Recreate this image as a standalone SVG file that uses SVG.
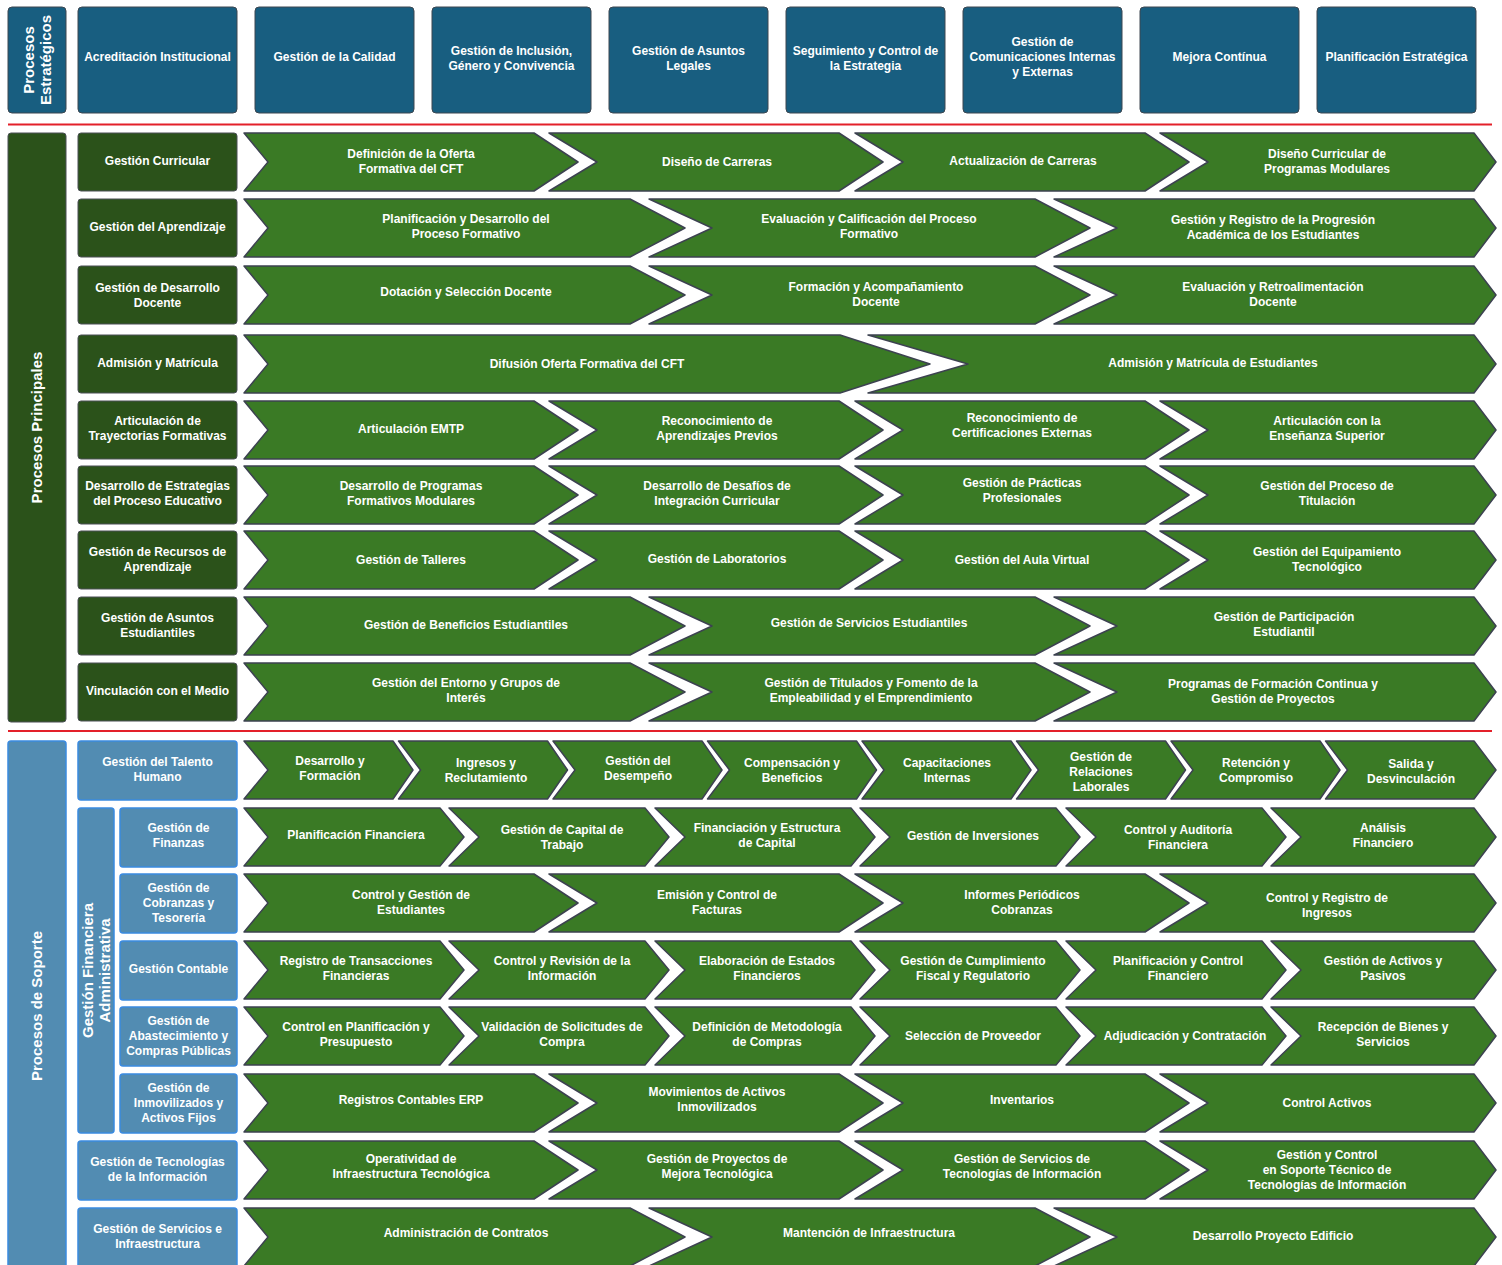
<svg xmlns="http://www.w3.org/2000/svg" width="1502" height="1265" viewBox="0 0 1502 1265">
<style>
.strat{fill:#185e80;stroke:#3d4650;stroke-width:1}
.prin{fill:#2b521a;stroke:#4a4f55;stroke-width:1}
.sup{fill:#528cb2;stroke:#3a8ae0;stroke-width:1.5}
.chev{fill:#3a7a25;stroke:#3c4250;stroke-width:1.5;stroke-linejoin:round}
.sep{stroke:#e3202a;stroke-width:2;fill:none}
.t{font-family:"Liberation Sans",Arial,sans-serif;font-weight:bold;font-size:12px;fill:#ffffff;text-anchor:middle}
.tv{font-family:"Liberation Sans",Arial,sans-serif;font-weight:bold;font-size:15px;fill:#ffffff;text-anchor:middle}
</style>
<defs>
<polygon id="c4f" class="chev" points="0,0 290,0 334,29 290,58 0,58 24,29"/>
<polygon id="c4m" class="chev" points="0,0 290,0 334,29 290,58 0,58 48,29"/>
<polygon id="c4l" class="chev" points="0,0 314,0 336,29 314,58 0,58 48,29"/>
<polygon id="c3f" class="chev" points="0,0 386,0 441,29 386,58 0,58 24,29"/>
<polygon id="c3m" class="chev" points="0,0 386,0 441,29 386,58 0,58 63,29"/>
<polygon id="c3l" class="chev" points="0,0 420,0 442,29 420,58 0,58 63,29"/>
<polygon id="c2f" class="chev" points="0,0 596,0 686,29 596,58 0,58 24,29"/>
<polygon id="c2l" class="chev" points="0,0 606,0 628,29 606,58 0,58 100,29"/>
<polygon id="c8f" class="chev" points="0,0 149,0 169,29 149,58 0,58 24,29"/>
<polygon id="c8m" class="chev" points="0,0 149,0 169,29 149,58 0,58 22,29"/>
<polygon id="c8l" class="chev" points="0,0 148.5,0 170.5,29 148.5,58 0,58 22,29"/>
<polygon id="c6f" class="chev" points="0,0 196,0 220,29 196,58 0,58 24,29"/>
<polygon id="c6m" class="chev" points="0,0 196,0 220,29 196,58 0,58 30,29"/>
<polygon id="c6l" class="chev" points="0,0 203,0 225,29 203,58 0,58 30,29"/>
</defs>
<rect width="1502" height="1265" fill="#ffffff"/>

<g id="connectors">
<line class="sep" x1="8" y1="124.5" x2="1492" y2="124.5"/>
<line class="sep" x1="8" y1="731" x2="1492" y2="731"/>
</g>

<!-- Strategic -->
<g id="procesos-estrategicos"><rect class="strat" x="8" y="7" width="58" height="106" rx="4"/><text class="tv" transform="translate(37,60) rotate(-90)" y="-3">Procesos<tspan x="0" dy="17">Estratégicos</tspan></text></g>
<g id="s1"><rect class="strat" x="78" y="7" width="159" height="106" rx="4"/><text class="t" x="157.5" y="61">Acreditación Institucional</text></g>
<g id="s2"><rect class="strat" x="255" y="7" width="159" height="106" rx="4"/><text class="t" x="334.5" y="61">Gestión de la Calidad</text></g>
<g id="s3"><rect class="strat" x="432" y="7" width="159" height="106" rx="4"/><text class="t" x="511.5" y="55">Gestión de Inclusión,<tspan x="511.5" dy="15">Género y Convivencia</tspan></text></g>
<g id="s4"><rect class="strat" x="609" y="7" width="159" height="106" rx="4"/><text class="t" x="688.5" y="55">Gestión de Asuntos<tspan x="688.5" dy="15">Legales</tspan></text></g>
<g id="s5"><rect class="strat" x="786" y="7" width="159" height="106" rx="4"/><text class="t" x="865.5" y="55">Seguimiento y Control de<tspan x="865.5" dy="15">la Estrategia</tspan></text></g>
<g id="s6"><rect class="strat" x="963" y="7" width="159" height="106" rx="4"/><text class="t" x="1042.5" y="46">Gestión de<tspan x="1042.5" dy="15">Comunicaciones Internas</tspan><tspan x="1042.5" dy="15">y Externas</tspan></text></g>
<g id="s7"><rect class="strat" x="1140" y="7" width="159" height="106" rx="4"/><text class="t" x="1219.5" y="61">Mejora Contínua</text></g>
<g id="s8"><rect class="strat" x="1317" y="7" width="159" height="106" rx="4"/><text class="t" x="1396.5" y="61">Planificación Estratégica</text></g>

<!-- Principal -->
<g id="procesos-principales"><rect class="prin" x="8" y="133" width="58" height="589" rx="3"/><text class="tv" transform="translate(37,427.5) rotate(-90)" y="5">Procesos Principales</text></g>

<g id="p1"><rect class="prin" x="78" y="133" width="159" height="58" rx="3"/><text class="t" x="157.5" y="165">Gestión Curricular</text></g>
<g id="p1-1"><use href="#c4f" x="244" y="133"/><text class="t" x="411" y="158">Definición de la Oferta<tspan x="411" dy="15">Formativa del CFT</tspan></text></g>
<g id="p1-2"><use href="#c4m" x="549" y="133"/><text class="t" x="717" y="166">Diseño de Carreras</text></g>
<g id="p1-3"><use href="#c4m" x="855" y="133"/><text class="t" x="1023" y="165">Actualización de Carreras</text></g>
<g id="p1-4"><use href="#c4l" x="1160" y="133"/><text class="t" x="1327" y="158">Diseño Curricular de<tspan x="1327" dy="15">Programas Modulares</tspan></text></g>

<g id="p2"><rect class="prin" x="78" y="199" width="159" height="58" rx="3"/><text class="t" x="157.5" y="231">Gestión del Aprendizaje</text></g>
<g id="p2-1"><use href="#c3f" x="244" y="199"/><text class="t" x="466" y="223">Planificación y Desarrollo del<tspan x="466" dy="15">Proceso Formativo</tspan></text></g>
<g id="p2-2"><use href="#c3m" x="649" y="199"/><text class="t" x="869" y="223">Evaluación y Calificación del Proceso<tspan x="869" dy="15">Formativo</tspan></text></g>
<g id="p2-3"><use href="#c3l" x="1054" y="199"/><text class="t" x="1273" y="224">Gestión y Registro de la Progresión<tspan x="1273" dy="15">Académica de los Estudiantes</tspan></text></g>

<g id="p3"><rect class="prin" x="78" y="266" width="159" height="58" rx="3"/><text class="t" x="157.5" y="292">Gestión de Desarrollo<tspan x="157.5" dy="15">Docente</tspan></text></g>
<g id="p3-1"><use href="#c3f" x="244" y="266"/><text class="t" x="466" y="296">Dotación y Selección Docente</text></g>
<g id="p3-2"><use href="#c3m" x="649" y="266"/><text class="t" x="876" y="291">Formación y Acompañamiento<tspan x="876" dy="15">Docente</tspan></text></g>
<g id="p3-3"><use href="#c3l" x="1054" y="266"/><text class="t" x="1273" y="291">Evaluación y Retroalimentación<tspan x="1273" dy="15">Docente</tspan></text></g>

<g id="p4"><rect class="prin" x="78" y="335" width="159" height="58" rx="3"/><text class="t" x="157.5" y="367">Admisión y Matrícula</text></g>
<g id="p4-1"><use href="#c2f" x="244" y="335"/><text class="t" x="587" y="368">Difusión Oferta Formativa del CFT</text></g>
<g id="p4-2"><use href="#c2l" x="868" y="335"/><text class="t" x="1213" y="367">Admisión y Matrícula de Estudiantes</text></g>

<g id="p5"><rect class="prin" x="78" y="401" width="159" height="58" rx="3"/><text class="t" x="157.5" y="425">Articulación de<tspan x="157.5" dy="15">Trayectorias Formativas</tspan></text></g>
<g id="p5-1"><use href="#c4f" x="244" y="401"/><text class="t" x="411" y="433">Articulación EMTP</text></g>
<g id="p5-2"><use href="#c4m" x="549" y="401"/><text class="t" x="717" y="425">Reconocimiento de<tspan x="717" dy="15">Aprendizajes Previos</tspan></text></g>
<g id="p5-3"><use href="#c4m" x="855" y="401"/><text class="t" x="1022" y="422">Reconocimiento de<tspan x="1022" dy="15">Certificaciones Externas</tspan></text></g>
<g id="p5-4"><use href="#c4l" x="1160" y="401"/><text class="t" x="1327" y="425">Articulación con la<tspan x="1327" dy="15">Enseñanza Superior</tspan></text></g>

<g id="p6"><rect class="prin" x="78" y="466" width="159" height="58" rx="3"/><text class="t" x="157.5" y="490">Desarrollo de Estrategias<tspan x="157.5" dy="15">del Proceso Educativo</tspan></text></g>
<g id="p6-1"><use href="#c4f" x="244" y="466"/><text class="t" x="411" y="490">Desarrollo de Programas<tspan x="411" dy="15">Formativos Modulares</tspan></text></g>
<g id="p6-2"><use href="#c4m" x="549" y="466"/><text class="t" x="717" y="490">Desarrollo de Desafíos de<tspan x="717" dy="15">Integración Curricular</tspan></text></g>
<g id="p6-3"><use href="#c4m" x="855" y="466"/><text class="t" x="1022" y="487">Gestión de Prácticas<tspan x="1022" dy="15">Profesionales</tspan></text></g>
<g id="p6-4"><use href="#c4l" x="1160" y="466"/><text class="t" x="1327" y="490">Gestión del Proceso de<tspan x="1327" dy="15">Titulación</tspan></text></g>

<g id="p7"><rect class="prin" x="78" y="531" width="159" height="58" rx="3"/><text class="t" x="157.5" y="556">Gestión de Recursos de<tspan x="157.5" dy="15">Aprendizaje</tspan></text></g>
<g id="p7-1"><use href="#c4f" x="244" y="531"/><text class="t" x="411" y="564">Gestión de Talleres</text></g>
<g id="p7-2"><use href="#c4m" x="549" y="531"/><text class="t" x="717" y="563">Gestión de Laboratorios</text></g>
<g id="p7-3"><use href="#c4m" x="855" y="531"/><text class="t" x="1022" y="564">Gestión del Aula Virtual</text></g>
<g id="p7-4"><use href="#c4l" x="1160" y="531"/><text class="t" x="1327" y="556">Gestión del Equipamiento<tspan x="1327" dy="15">Tecnológico</tspan></text></g>

<g id="p8"><rect class="prin" x="78" y="597" width="159" height="58" rx="3"/><text class="t" x="157.5" y="622">Gestión de Asuntos<tspan x="157.5" dy="15">Estudiantiles</tspan></text></g>
<g id="p8-1"><use href="#c3f" x="244" y="597"/><text class="t" x="466" y="629">Gestión de Beneficios Estudiantiles</text></g>
<g id="p8-2"><use href="#c3m" x="649" y="597"/><text class="t" x="869" y="627">Gestión de Servicios Estudiantiles</text></g>
<g id="p8-3"><use href="#c3l" x="1054" y="597"/><text class="t" x="1284" y="621">Gestión de Participación<tspan x="1284" dy="15">Estudiantil</tspan></text></g>

<g id="p9"><rect class="prin" x="78" y="663" width="159" height="58" rx="3"/><text class="t" x="157.5" y="695">Vinculación con el Medio</text></g>
<g id="p9-1"><use href="#c3f" x="244" y="663"/><text class="t" x="466" y="687">Gestión del Entorno y Grupos de<tspan x="466" dy="15">Interés</tspan></text></g>
<g id="p9-2"><use href="#c3m" x="649" y="663"/><text class="t" x="871" y="687">Gestión de Titulados y Fomento de la<tspan x="871" dy="15">Empleabilidad y el Emprendimiento</tspan></text></g>
<g id="p9-3"><use href="#c3l" x="1054" y="663"/><text class="t" x="1273" y="688">Programas de Formación Continua y<tspan x="1273" dy="15">Gestión de Proyectos</tspan></text></g>

<!-- Support -->
<g id="procesos-soporte"><rect class="sup" x="8" y="741" width="58" height="532" rx="3"/><text class="tv" transform="translate(37,1006) rotate(-90)" y="5">Procesos de Soporte</text></g>

<g id="th"><rect class="sup" x="78" y="741" width="159" height="59" rx="3"/><text class="t" x="157.5" y="766">Gestión del Talento<tspan x="157.5" dy="15">Humano</tspan></text></g>
<g id="th-1"><use href="#c8f" x="244" y="741"/><text class="t" x="330" y="765">Desarrollo y<tspan x="330" dy="15">Formación</tspan></text></g>
<g id="th-2"><use href="#c8m" x="398.5" y="741"/><text class="t" x="486" y="767">Ingresos y<tspan x="486" dy="15">Reclutamiento</tspan></text></g>
<g id="th-3"><use href="#c8m" x="553" y="741"/><text class="t" x="638" y="765">Gestión del<tspan x="638" dy="15">Desempeño</tspan></text></g>
<g id="th-4"><use href="#c8m" x="707.5" y="741"/><text class="t" x="792" y="767">Compensación y<tspan x="792" dy="15">Beneficios</tspan></text></g>
<g id="th-5"><use href="#c8m" x="862" y="741"/><text class="t" x="947" y="767">Capacitaciones<tspan x="947" dy="15">Internas</tspan></text></g>
<g id="th-6"><use href="#c8m" x="1016.5" y="741"/><text class="t" x="1101" y="761">Gestión de<tspan x="1101" dy="15">Relaciones</tspan><tspan x="1101" dy="15">Laborales</tspan></text></g>
<g id="th-7"><use href="#c8m" x="1171" y="741"/><text class="t" x="1256" y="767">Retención y<tspan x="1256" dy="15">Compromiso</tspan></text></g>
<g id="th-8"><use href="#c8l" x="1325.5" y="741"/><text class="t" x="1411" y="768">Salida y<tspan x="1411" dy="15">Desvinculación</tspan></text></g>

<g id="gestion-financiera"><rect class="sup" x="78" y="808" width="36" height="325" rx="3"/><text class="tv" transform="translate(96,970.5) rotate(-90)" y="-3">Gestión Financiera<tspan x="0" dy="17">Administrativa</tspan></text></g>

<g id="fin"><rect class="sup" x="120" y="808" width="117" height="59" rx="3"/><text class="t" x="178.5" y="832">Gestión de<tspan x="178.5" dy="15">Finanzas</tspan></text></g>
<g id="fin-1"><use href="#c6f" x="244" y="808"/><text class="t" x="356" y="839">Planificación Financiera</text></g>
<g id="fin-2"><use href="#c6m" x="449" y="808"/><text class="t" x="562" y="834">Gestión de Capital de<tspan x="562" dy="15">Trabajo</tspan></text></g>
<g id="fin-3"><use href="#c6m" x="655" y="808"/><text class="t" x="767" y="832">Financiación y Estructura<tspan x="767" dy="15">de Capital</tspan></text></g>
<g id="fin-4"><use href="#c6m" x="860" y="808"/><text class="t" x="973" y="840">Gestión de Inversiones</text></g>
<g id="fin-5"><use href="#c6m" x="1066" y="808"/><text class="t" x="1178" y="834">Control y Auditoría<tspan x="1178" dy="15">Financiera</tspan></text></g>
<g id="fin-6"><use href="#c6l" x="1271" y="808"/><text class="t" x="1383" y="832">Análisis<tspan x="1383" dy="15">Financiero</tspan></text></g>

<g id="cob"><rect class="sup" x="120" y="874" width="117" height="59" rx="3"/><text class="t" x="178.5" y="892">Gestión de<tspan x="178.5" dy="15">Cobranzas y</tspan><tspan x="178.5" dy="15">Tesorería</tspan></text></g>
<g id="cob-1"><use href="#c4f" x="244" y="874"/><text class="t" x="411" y="899">Control y Gestión de<tspan x="411" dy="15">Estudiantes</tspan></text></g>
<g id="cob-2"><use href="#c4m" x="549" y="874"/><text class="t" x="717" y="899">Emisión y Control de<tspan x="717" dy="15">Facturas</tspan></text></g>
<g id="cob-3"><use href="#c4m" x="855" y="874"/><text class="t" x="1022" y="899">Informes Periódicos<tspan x="1022" dy="15">Cobranzas</tspan></text></g>
<g id="cob-4"><use href="#c4l" x="1160" y="874"/><text class="t" x="1327" y="902">Control y Registro de<tspan x="1327" dy="15">Ingresos</tspan></text></g>

<g id="cont"><rect class="sup" x="120" y="941" width="117" height="59" rx="3"/><text class="t" x="178.5" y="973">Gestión Contable</text></g>
<g id="cont-1"><use href="#c6f" x="244" y="941"/><text class="t" x="356" y="965">Registro de Transacciones<tspan x="356" dy="15">Financieras</tspan></text></g>
<g id="cont-2"><use href="#c6m" x="449" y="941"/><text class="t" x="562" y="965">Control y Revisión de la<tspan x="562" dy="15">Información</tspan></text></g>
<g id="cont-3"><use href="#c6m" x="655" y="941"/><text class="t" x="767" y="965">Elaboración de Estados<tspan x="767" dy="15">Financieros</tspan></text></g>
<g id="cont-4"><use href="#c6m" x="860" y="941"/><text class="t" x="973" y="965">Gestión de Cumplimiento<tspan x="973" dy="15">Fiscal y Regulatorio</tspan></text></g>
<g id="cont-5"><use href="#c6m" x="1066" y="941"/><text class="t" x="1178" y="965">Planificación y Control<tspan x="1178" dy="15">Financiero</tspan></text></g>
<g id="cont-6"><use href="#c6l" x="1271" y="941"/><text class="t" x="1383" y="965">Gestión de Activos y<tspan x="1383" dy="15">Pasivos</tspan></text></g>

<g id="abas"><rect class="sup" x="120" y="1007" width="117" height="59" rx="3"/><text class="t" x="178.5" y="1025">Gestión de<tspan x="178.5" dy="15">Abastecimiento y</tspan><tspan x="178.5" dy="15">Compras Públicas</tspan></text></g>
<g id="abas-1"><use href="#c6f" x="244" y="1007"/><text class="t" x="356" y="1031">Control en Planificación y<tspan x="356" dy="15">Presupuesto</tspan></text></g>
<g id="abas-2"><use href="#c6m" x="449" y="1007"/><text class="t" x="562" y="1031">Validación de Solicitudes de<tspan x="562" dy="15">Compra</tspan></text></g>
<g id="abas-3"><use href="#c6m" x="655" y="1007"/><text class="t" x="767" y="1031">Definición de Metodología<tspan x="767" dy="15">de Compras</tspan></text></g>
<g id="abas-4"><use href="#c6m" x="860" y="1007"/><text class="t" x="973" y="1040">Selección de Proveedor</text></g>
<g id="abas-5"><use href="#c6m" x="1066" y="1007"/><text class="t" x="1185" y="1040">Adjudicación y Contratación</text></g>
<g id="abas-6"><use href="#c6l" x="1271" y="1007"/><text class="t" x="1383" y="1031">Recepción de Bienes y<tspan x="1383" dy="15">Servicios</tspan></text></g>

<g id="inm"><rect class="sup" x="120" y="1074" width="117" height="59" rx="3"/><text class="t" x="178.5" y="1092">Gestión de<tspan x="178.5" dy="15">Inmovilizados y</tspan><tspan x="178.5" dy="15">Activos Fijos</tspan></text></g>
<g id="inm-1"><use href="#c4f" x="244" y="1074"/><text class="t" x="411" y="1104">Registros Contables ERP</text></g>
<g id="inm-2"><use href="#c4m" x="549" y="1074"/><text class="t" x="717" y="1096">Movimientos de Activos<tspan x="717" dy="15">Inmovilizados</tspan></text></g>
<g id="inm-3"><use href="#c4m" x="855" y="1074"/><text class="t" x="1022" y="1104">Inventarios</text></g>
<g id="inm-4"><use href="#c4l" x="1160" y="1074"/><text class="t" x="1327" y="1107">Control Activos</text></g>

<g id="tec"><rect class="sup" x="78" y="1141" width="159" height="59" rx="3"/><text class="t" x="157.5" y="1166">Gestión de Tecnologías<tspan x="157.5" dy="15">de la Información</tspan></text></g>
<g id="tec-1"><use href="#c4f" x="244" y="1141"/><text class="t" x="411" y="1163">Operatividad de<tspan x="411" dy="15">Infraestructura Tecnológica</tspan></text></g>
<g id="tec-2"><use href="#c4m" x="549" y="1141"/><text class="t" x="717" y="1163">Gestión de Proyectos de<tspan x="717" dy="15">Mejora Tecnológica</tspan></text></g>
<g id="tec-3"><use href="#c4m" x="855" y="1141"/><text class="t" x="1022" y="1163">Gestión de Servicios de<tspan x="1022" dy="15">Tecnologías de Información</tspan></text></g>
<g id="tec-4"><use href="#c4l" x="1160" y="1141"/><text class="t" x="1327" y="1159">Gestión y Control<tspan x="1327" dy="15">en Soporte Técnico de</tspan><tspan x="1327" dy="15">Tecnologías de Información</tspan></text></g>

<g id="serv"><rect class="sup" x="78" y="1208" width="159" height="65" rx="3"/><text class="t" x="157.5" y="1233">Gestión de Servicios e<tspan x="157.5" dy="15">Infraestructura</tspan></text></g>
<g id="serv-1"><use href="#c3f" x="244" y="1208"/><text class="t" x="466" y="1237">Administración de Contratos</text></g>
<g id="serv-2"><use href="#c3m" x="649" y="1208"/><text class="t" x="869" y="1237">Mantención de Infraestructura</text></g>
<g id="serv-3"><use href="#c3l" x="1054" y="1208"/><text class="t" x="1273" y="1240">Desarrollo Proyecto Edificio</text></g>
</svg>
